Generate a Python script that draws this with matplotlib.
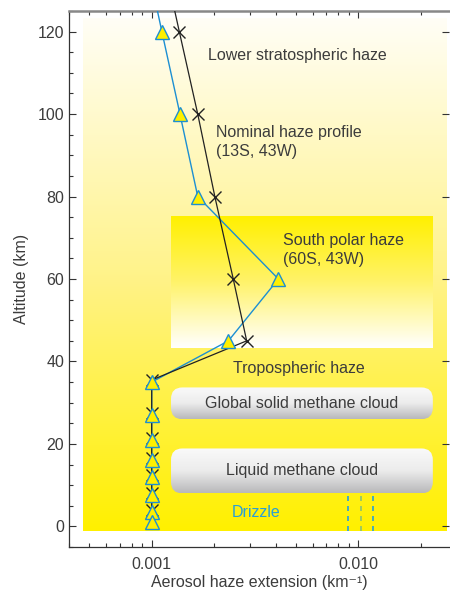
import numpy as np
import matplotlib
matplotlib.use('Agg')
import matplotlib.pyplot as plt
from matplotlib.patches import FancyBboxPatch
from matplotlib.colors import LinearSegmentedColormap
from matplotlib.ticker import FixedLocator, LogLocator, MultipleLocator, NullFormatter

plt.rcParams['font.family'] = ['Liberation Sans', 'DejaVu Sans']

# nominal haze profile (13S, 43W) - crosses
nom_alt = [140, 120, 100, 80, 60, 45, 35.5, 27.5, 21.5, 16.5, 12.5, 8, 4]
nom_ext = [0.00111, 0.00136, 0.00167, 0.00202, 0.00248, 0.00288, 0.001, 0.001, 0.001, 0.001, 0.001, 0.001, 0.001]
# south polar haze (60S, 43W) - triangles
pol_alt = [140, 120, 100, 80, 60, 45, 35, 27, 21, 16, 12, 7.5, 3.5, 1]
pol_ext = [0.00092, 0.00112, 0.00137, 0.00167, 0.0041, 0.00235, 0.001, 0.001, 0.001, 0.001, 0.001, 0.001, 0.001, 0.001]
# drizzle lines
drz_x = [0.00894, 0.01026, 0.01178]
drz_col = ['#2a9fd6', '#8cc270', '#2a9fd6']

txt = '#3c3c3c'
fig = plt.figure(figsize=(4.5, 5.92), dpi=100)
ax = fig.add_axes([69/450, 45/592, 380/450, 536/592])
ax.set_xscale('log')
ax.set_xlim(10**-3.4, 10**-1.562)
ax.set_ylim(-5, 125)

def to_ax(x, y):
    return (ax.transData + ax.transAxes.inverted()).transform((x, y))

# background gradients
bg = LinearSegmentedColormap.from_list('bg', ['#fff000', '#fff38a', '#fffef6'])
x0, y0 = to_ax(0.000465, -1.2)
x1, y1 = to_ax(0.0265, 123)
g = np.linspace(0, 1, 256).reshape(-1, 1)
ax.imshow(g, cmap=bg, origin='lower', aspect='auto', extent=[x0, x1, y0, y1],
          transform=ax.transAxes, zorder=0, interpolation='bilinear')
pc = LinearSegmentedColormap.from_list('pc', ['#ffffff', '#fff36a', '#fff000'])
x0, y0 = to_ax(0.00124, 43.2)
x1, y1 = to_ax(0.0229, 75)
ax.imshow(g, cmap=pc, origin='lower', aspect='auto', extent=[x0, x1, y0, y1],
          transform=ax.transAxes, zorder=0.5, interpolation='bilinear')

# cloud boxes
cl = LinearSegmentedColormap.from_list('cl', ['#b8b8ba', '#ececec', '#fafafa'])
for (ya, yb, label) in [(26, 33.7, 'Global solid methane cloud'), (8, 18.9, 'Liquid methane cloud')]:
    bx0, by0 = to_ax(0.00124, ya)
    bx1, by1 = to_ax(0.0229, yb)
    p = FancyBboxPatch((bx0, by0), bx1 - bx0, by1 - by0, transform=ax.transAxes,
                       boxstyle='round,pad=0,rounding_size=0.03', mutation_aspect=380/536,
                       fc='none', ec='none', zorder=1)
    ax.add_patch(p)
    im = ax.imshow(g, cmap=cl, origin='lower', aspect='auto', extent=[bx0, bx1, by0, by1],
                   transform=ax.transAxes, zorder=1, interpolation='bilinear')
    im.set_clip_path(p)
    ax.text((bx0 + bx1) / 2, (by0 + by1) / 2, label, transform=ax.transAxes,
            ha='center', va='center', fontsize=11.5, color=txt, zorder=2)

ax.set_xlim(10**-3.4, 10**-1.562)
ax.set_ylim(-5, 125)

for xd, c in zip(drz_x, drz_col):
    ax.plot([xd, xd], [-1, 8], color=c, lw=1.2, ls=(0, (3, 3)), zorder=2)

ax.plot(pol_ext, pol_alt, color='#1c8fd2', lw=1.0, zorder=3)
ax.plot(nom_ext, nom_alt, color='#222222', lw=0.9, marker='x', ms=9, mew=1.0, zorder=4)
ax.plot(pol_ext, pol_alt, ls='none', marker='^', ms=10.5, mfc='#fff000',
        mec='#1c8fd2', mew=1.0, zorder=5)

ax.text(0.00187, 114.2, 'Lower stratospheric haze', fontsize=11.5, color=txt, va='center')
ax.text(0.00205, 93.2, 'Nominal haze profile\n(13S, 43W)', fontsize=11.5, color=txt, va='center', linespacing=1.3)
ax.text(0.00433, 67, 'South polar haze\n(60S, 43W)', fontsize=11.5, color=txt, va='center', linespacing=1.3)
ax.text(0.00248, 38.2, 'Tropospheric haze', fontsize=11.5, color=txt, va='center')
ax.text(0.00245, 3.4, 'Drizzle', fontsize=11.5, color='#2a9fd6', va='center')

ax.xaxis.set_major_locator(FixedLocator([0.001, 0.01]))
ax.set_xticklabels(['0.001', '0.010'])
ax.xaxis.set_minor_locator(LogLocator(base=10, subs=np.arange(2, 10)))
ax.xaxis.set_minor_formatter(NullFormatter())
ax.yaxis.set_major_locator(MultipleLocator(20))
ax.yaxis.set_minor_locator(MultipleLocator(5))
ax.tick_params(which='both', direction='in', colors='#333333', labelcolor=txt, labelsize=11.5)
ax.tick_params(which='major', length=5, width=0.8, top=True, right=True)
ax.tick_params(which='minor', length=3, width=0.8, top=True, right=False)
ax.tick_params(axis='x', pad=7)
ax.spines['right'].set_visible(False)
ax.spines['top'].set_color('#888888')
ax.spines['top'].set_linewidth(1.8)
for s in ['left', 'bottom']:
    ax.spines[s].set_color('#333333')
    ax.spines[s].set_linewidth(0.9)
ax.set_ylabel('Altitude (km)', fontsize=11.5, color=txt, labelpad=6)
ax.set_xlabel('Aerosol haze extension (km\u207b\u00b9)', fontsize=11.5, color=txt, labelpad=2)

fig.savefig('out.png', dpi=100)
